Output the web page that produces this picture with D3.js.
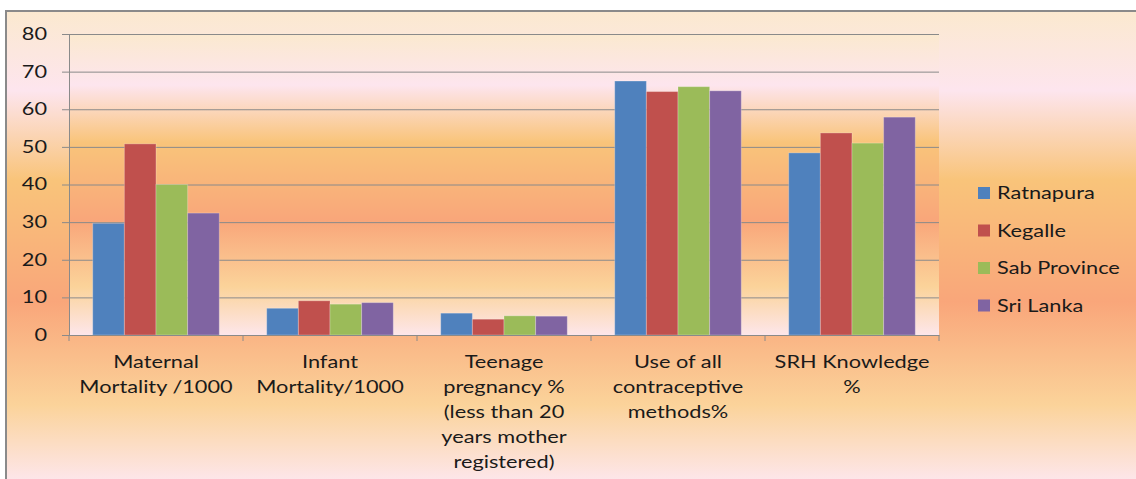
<!DOCTYPE html>
<html>
<head>
<meta charset="utf-8">
<script src="https://cdn.jsdelivr.net/npm/d3@7"></script>
<style>
  html, body { margin: 0; padding: 0; background: #fff; }
  text { font-family: Lato, "Open Sans", sans-serif; fill: #1a1a1a; }
</style>
</head>
<body>
<div id="chart"></div>
<script>
const categories = [
  ["Maternal", "Mortality /1000"],
  ["Infant", "Mortality/1000"],
  ["Teenage", "pregnancy %", "(less than 20", "years mother", "registered)"],
  ["Use of all", "contraceptive", "methods%"],
  ["SRH Knowledge", "%"]
]
const seriesNames = ["Ratnapura", "Kegalle", "Sab Province", "Sri Lanka"]
const ratnapura = [29.7, 7.1, 5.8, 67.5, 48.4]
const kegalle = [50.8, 9.1, 4.2, 64.7, 53.7]
const sabProvince = [40.0, 8.2, 5.1, 66.0, 51.0]
const sriLanka = [32.4, 8.6, 5.0, 64.9, 57.9]
const yTicks = [0, 10, 20, 30, 40, 50, 60, 70, 80]

const colors = ['#4f81bd', '#c0504d', '#9bbb59', '#8064a2']
const seriesValues = [ratnapura, kegalle, sabProvince, sriLanka]

let dim = { width: 1136, height: 479 }
let plot = { left: 69, right: 939, top: 34, bottom: 335 }
let stretch = 1.28   // text in the picture is drawn wide

let svg = d3.select('#chart').append('svg')
    .attr('width', dim.width)
    .attr('height', dim.height)

// background gradients (same preset for chart area and plot area)
const stops = [
  [0, '#fbe9cf'], [0.17, '#fde5ee'], [0.36, '#f9c47a'],
  [0.62, '#f9a67a'], [0.84, '#fbd39a'], [1, '#fde6ea']
]
let defs = svg.append('defs')
function gradient(id, y1, y2) {
  let g = defs.append('linearGradient').attr('id', id)
      .attr('gradientUnits', 'userSpaceOnUse')
      .attr('x1', 0).attr('x2', 0).attr('y1', y1).attr('y2', y2)
  g.selectAll('stop').data(stops).enter().append('stop')
      .attr('offset', d => d[0]).attr('stop-color', d => d[1])
}
gradient('chartBg', 11, 480)
gradient('plotBg', plot.top, plot.bottom)

svg.append('rect')
    .attr('x', 6).attr('y', 11)
    .attr('width', dim.width).attr('height', dim.height)
    .attr('fill', 'url(#chartBg)')
    .attr('stroke', '#8a8a8a').attr('stroke-width', 2)

svg.append('rect')
    .attr('x', plot.left).attr('y', plot.top)
    .attr('width', plot.right - plot.left).attr('height', plot.bottom - plot.top)
    .attr('fill', 'url(#plotBg)')

let scaleX = d3.scaleBand()
    .domain(d3.range(categories.length))
    .range([plot.left, plot.right])
    .padding(0)

let scaleSeries = d3.scaleBand()
    .domain(d3.range(seriesNames.length))
    .range([0, scaleX.bandwidth()])
    .paddingInner(0)
    .paddingOuter(0.75)

let scaleY = d3.scaleLinear()
    .domain([0, 80])
    .range([plot.bottom, plot.top])

// gridlines + y axis
let axisY = d3.axisLeft(scaleY)
    .tickValues(yTicks)
    .tickSize(-(plot.right - plot.left))
    .tickSizeOuter(0)
    .tickFormat(d3.format('d'))

let gy = svg.append('g')
    .attr('transform', `translate(${plot.left},0)`)
    .call(axisY)
gy.select('.domain').attr('stroke', '#8a8a8a')
gy.selectAll('.tick line')
    .attr('stroke', '#8a8a8a')
    .attr('x1', -7)
gy.selectAll('.tick text')
    .attr('x', 0)
    .attr('transform', `translate(-22,0) scale(${stretch},1)`)
    .attr('font-size', 17)
    .attr('font-family', 'Lato, sans-serif')
    .attr('fill', '#1a1a1a')

// bars
let groups = svg.append('g').selectAll('g')
    .data(categories)
    .enter().append('g')
    .attr('transform', (d, i) => `translate(${scaleX(i)},0)`)

groups.selectAll('rect')
    .data((d, i) => seriesValues.map((s, j) => ({ s: j, v: s[i] })))
    .enter().append('rect')
    .attr('x', d => scaleSeries(d.s))
    .attr('y', d => scaleY(d.v))
    .attr('width', scaleSeries.bandwidth())
    .attr('height', d => scaleY(0) - scaleY(d.v))
    .attr('fill', d => colors[d.s])
    .attr('stroke', 'rgba(255,255,255,0.25)')
    .attr('stroke-width', 1)

// x axis
let axisX = d3.axisBottom(scaleX).tickSize(0).tickFormat('')
let gx = svg.append('g')
    .attr('transform', `translate(0,${plot.bottom})`)
    .call(axisX)
gx.select('.domain').attr('stroke', '#8a8a8a')

svg.append('g').selectAll('line')
    .data(d3.range(categories.length + 1))
    .enter().append('line')
    .attr('x1', d => plot.left + d * scaleX.step())
    .attr('x2', d => plot.left + d * scaleX.step())
    .attr('y1', plot.bottom).attr('y2', plot.bottom + 6)
    .attr('stroke', '#8a8a8a')

// category labels
let labels = svg.append('g').selectAll('text')
    .data(categories)
    .enter().append('text')
    .attr('transform', (d, i) =>
        `translate(${scaleX(i) + scaleX.bandwidth() / 2},368) scale(${stretch},1)`)
    .attr('text-anchor', 'middle')
    .attr('font-size', 17)

labels.selectAll('tspan')
    .data(d => d)
    .enter().append('tspan')
    .attr('x', 0)
    .attr('dy', (d, i) => i === 0 ? 0 : 25)
    .text(d => d)

// legend
let legend = svg.append('g').selectAll('g')
    .data(seriesNames)
    .enter().append('g')
    .attr('transform', (d, i) => `translate(978,${193 + i * 37.5})`)

legend.append('rect')
    .attr('x', 0).attr('y', -6)
    .attr('width', 12).attr('height', 12)
    .attr('fill', (d, i) => colors[i])

legend.append('text')
    .attr('transform', `translate(19,6) scale(${stretch},1)`)
    .attr('font-size', 17)
    .text(d => d)
</script>
</body>
</html>
